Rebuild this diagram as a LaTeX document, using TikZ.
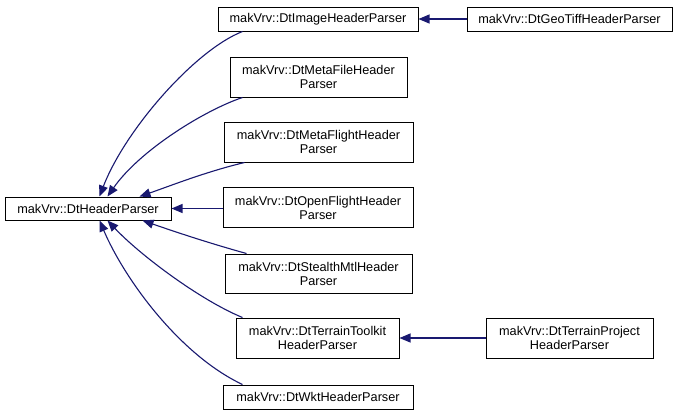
\documentclass[tikz,border=0pt]{standalone}
\usepackage{fontspec}
\setmainfont{Liberation Sans}
\usetikzlibrary{arrows.meta}
\definecolor{edgeblue}{HTML}{191970}
\begin{document}
\begin{tikzpicture}[x=1pt,y=-1pt,
  cls/.style={draw=black,line width=1pt,fill=white,inner sep=0pt,align=center,
    font=\fontsize{12.7}{14}\selectfont},
  edge/.style={draw=edgeblue,line width=1.1pt,-{Triangle[length=11pt,width=9pt]}}]
\useasboundingbox[fill=white] (0,0) rectangle (677,416);
\node[cls,minimum width=166pt,minimum height=23pt] (base) at (88,208.5) {makVrv::DtHeaderParser};
\node[cls,minimum width=200pt,minimum height=24pt] (img) at (318,19) {makVrv::DtImageHeaderParser};
\node[cls,minimum width=205pt,minimum height=24pt] (geo) at (569.5,19) {makVrv::DtGeoTiffHeaderParser};
\node[cls,minimum width=177pt,minimum height=40pt] (mfile) at (318.5,77) {makVrv::DtMetaFileHeader\\Parser};
\node[cls,minimum width=189pt,minimum height=40pt] (mflight) at (318.5,142) {makVrv::DtMetaFlightHeader\\Parser};
\node[cls,minimum width=190pt,minimum height=40pt] (open) at (318,207.5) {makVrv::DtOpenFlightHeader\\Parser};
\node[cls,minimum width=187pt,minimum height=39pt] (stealth) at (318.5,273.5) {makVrv::DtStealthMtlHeader\\Parser};
\node[cls,minimum width=163pt,minimum height=40pt] (toolkit) at (317.5,338) {makVrv::DtTerrainToolkit\\HeaderParser};
\node[cls,minimum width=167pt,minimum height=40pt] (project) at (569.5,338) {makVrv::DtTerrainProject\\HeaderParser};
\node[cls,minimum width=190pt,minimum height=24pt] (wkt) at (318,397) {makVrv::DtWktHeaderParser};

\draw[edge] ([xshift=25pt]img.south west) .. controls (195,50) and (125,130) .. ([xshift=95pt]base.north west);
\draw[edge] ([xshift=13pt]mfile.south west) .. controls (205,110) and (140,150) .. ([xshift=103pt]base.north west);
\draw[edge] ([xshift=21pt]mflight.south west) .. controls (205,172) and (170,186) .. ([xshift=135pt]base.north west);
\draw[edge] (open.west |- base.east) -- (base.east);
\draw[edge] ([xshift=22pt]stealth.north west) .. controls (205,242) and (170,230) .. ([xshift=138pt]base.south west);
\draw[edge] ([xshift=7pt]toolkit.north west) .. controls (200,300) and (140,255) .. ([xshift=103pt]base.south west);
\draw[edge] ([xshift=20pt]wkt.north west) .. controls (180,355) and (125,280) .. ([xshift=95pt]base.south west);
\draw[edge] (geo.west) -- (img.east);
\draw[edge] (project.west) -- (toolkit.east);
\end{tikzpicture}
\end{document}
